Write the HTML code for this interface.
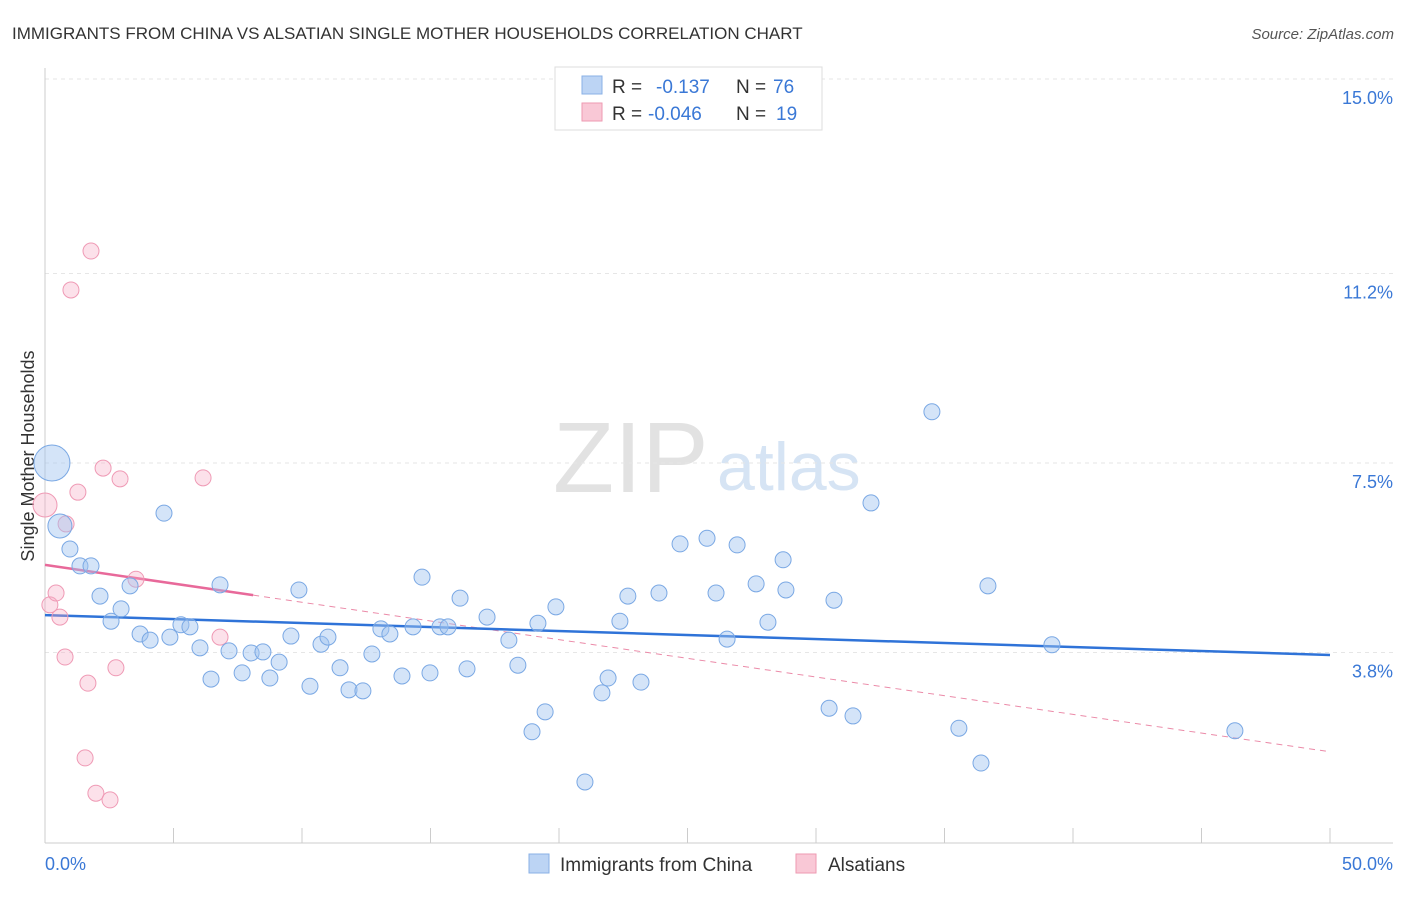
<!DOCTYPE html>
<html><head><meta charset="utf-8"><style>
body{margin:0;background:#fff;font-family:"Liberation Sans",sans-serif;}
svg text{font-family:"Liberation Sans",sans-serif;}
</style></head><body>
<svg id="chart" width="1406" height="892" viewBox="0 0 1406 892" xmlns="http://www.w3.org/2000/svg">
<text x="12" y="39" font-size="17" fill="#333">IMMIGRANTS FROM CHINA VS ALSATIAN SINGLE MOTHER HOUSEHOLDS CORRELATION CHART</text>
<text x="1394" y="39" font-size="15" fill="#555" font-style="italic" text-anchor="end">Source: ZipAtlas.com</text>
<g>
<text x="553" y="492" font-size="100" fill="#e2e2e2" font-family="Liberation Serif">ZIP</text>
<text x="717" y="490" font-size="68" fill="#d6e4f4">atlas</text>
</g>
<g id="grid"></g>
<g id="axes"></g>
<text transform="translate(34,456) rotate(-90)" font-size="18" fill="#333" text-anchor="middle">Single Mother Households</text>
<g id="lines"></g>
<g id="pts"></g>
<g>
<rect x="555" y="67" width="267" height="63" fill="#fff" stroke="#ddd"/>
<rect x="582" y="76" width="20" height="18" fill="#bcd4f4" stroke="#8ab0e6"/>
<rect x="582" y="103" width="20" height="18" fill="#f9c8d6" stroke="#ee9ab2"/>
<text x="612" y="93" font-size="19" fill="#333">R = <tspan x="656" fill="#3a78d6">-0.137</tspan><tspan x="736" fill="#333">N =</tspan><tspan x="773" fill="#3a78d6">76</tspan></text>
<text x="612" y="120" font-size="19" fill="#333">R = <tspan x="648" fill="#3a78d6">-0.046</tspan><tspan x="736" fill="#333">N =</tspan><tspan x="776" fill="#3a78d6">19</tspan></text>
</g>
<g>
<rect x="529" y="854" width="20" height="19" fill="#bcd4f4" stroke="#8ab0e6"/>
<text x="560" y="871" font-size="19" fill="#333">Immigrants from China</text>
<rect x="796" y="854" width="20" height="19" fill="#f9c8d6" stroke="#ee9ab2"/>
<text x="828" y="871" font-size="19" fill="#333">Alsatians</text>
</g>
</svg>
<script>
const yTicks=[3.8,7.5,11.2,15.0];
const yTickLabels=["3.8%","7.5%","11.2%","15.0%"];
const xEndLabels=["0.0%","50.0%"];
const chinaX=[0.27,0.58,0.97,1.36,1.79,2.14,2.57,2.96,3.31,3.70,4.09,4.63,4.86,5.29,5.64,6.03,6.46,6.81,7.16,7.67,8.02,8.48,8.75,9.11,9.57,9.88,10.31,10.74,11.01,11.48,11.83,12.37,12.72,13.07,13.42,13.89,14.32,14.67,14.98,15.37,15.68,16.15,16.42,17.20,18.05,18.40,18.95,19.18,19.46,19.88,21.01,21.67,21.91,22.37,22.68,23.19,23.89,24.71,25.76,26.11,26.54,26.93,27.67,28.13,28.72,28.83,30.51,30.70,31.44,32.14,34.51,35.56,36.42,36.69,39.18,46.30];
const chinaY=[7.50,6.27,5.82,5.49,5.49,4.90,4.41,4.65,5.10,4.16,4.04,6.52,4.10,4.34,4.30,3.89,3.28,5.12,3.83,3.40,3.79,3.81,3.30,3.61,4.12,5.02,3.14,3.96,4.10,3.50,3.07,3.05,3.77,4.26,4.16,3.34,4.30,5.27,3.40,4.30,4.30,4.86,3.48,4.49,4.04,3.55,2.25,4.37,2.64,4.69,1.27,3.01,3.30,4.41,4.90,3.22,4.96,5.92,6.03,4.96,4.06,5.90,5.14,4.39,5.61,5.02,2.71,4.82,2.56,6.72,8.50,2.32,1.64,5.10,3.95,2.27];
const chinaSize=[18,12];
const alsX=[0,0.19,0.43,0.58,0.82,0.78,1.01,1.28,1.67,1.79,1.56,1.98,2.26,2.53,2.76,2.92,3.54,6.15,6.81];
const alsY=[6.68,4.73,4.96,4.49,6.31,3.71,10.88,6.93,3.20,11.64,1.74,1.05,7.40,0.92,3.50,7.19,5.23,7.21,4.10];
const alsSize=[12];
const chinaTrend=[4.53,3.75];
const alsTrend=[5.51,1.86];
const alsSolidEnd=8.1;

const X=v=>45+v*25.7, Y=v=>847-v*51.2;
const NS="http://www.w3.org/2000/svg";
function mk(parent,tag,attrs){const e=document.createElementNS(NS,tag);for(const k in attrs)e.setAttribute(k,attrs[k]);document.getElementById(parent).appendChild(e);return e;}
yTicks.forEach((t,i)=>{
 const l=mk('grid','line',{x1:45,x2:1393,y1:Y(t),y2:Y(t),stroke:'#e6e6e6','stroke-dasharray':'4,4'});
 
 
 const tx=mk('grid','text',{x:1393,y:Y(t)+25,'font-size':18,fill:'#3a78d6','text-anchor':'end'});
 tx.textContent=yTickLabels[i];
 
 
});
let a=mk('axes','line',{x1:45,x2:45,y1:68,y2:843,stroke:'#ccc'});


a=mk('axes','line',{x1:45,x2:1393,y1:843,y2:843,stroke:'#ccc'});


for(let i=1;i<=10;i++){
 const t=mk('axes','line',{x1:X(i*5),x2:X(i*5),y1:828,y2:843,stroke:'#ccc'});
 
 
}
let xl=mk('axes','text',{x:45,y:870,'font-size':18,fill:'#3a78d6'});xl.textContent=xEndLabels[0];


xl=mk('axes','text',{x:1393,y:870,'font-size':18,fill:'#3a78d6','text-anchor':'end'});xl.textContent=xEndLabels[1];



alsX.forEach((x,i)=>{
 const c=mk('pts','circle',{cx:X(x),cy:Y(alsY[i]),r:alsSize[i]||8,fill:'rgba(246,170,195,0.35)',stroke:'#ef9ab5','stroke-width':1});
 
 
});
chinaX.forEach((x,i)=>{
 const c=mk('pts','circle',{cx:X(x),cy:Y(chinaY[i]),r:chinaSize[i]||8,fill:'rgba(160,195,240,0.45)',stroke:'#7aa8e4','stroke-width':1});
 
 
});
const slope=(alsTrend[1]-alsTrend[0])/50;
let ln=mk('lines','line',{x1:X(alsSolidEnd),y1:Y(alsTrend[0]+slope*alsSolidEnd),x2:X(50),y2:Y(alsTrend[1]),stroke:'#eb8aa8','stroke-width':1,'stroke-dasharray':'6,5'});


ln=mk('lines','line',{x1:X(0),y1:Y(alsTrend[0]),x2:X(alsSolidEnd),y2:Y(alsTrend[0]+slope*alsSolidEnd),stroke:'#e8699a','stroke-width':2.5});


ln=mk('lines','line',{x1:X(0),y1:Y(chinaTrend[0]),x2:X(50),y2:Y(chinaTrend[1]),stroke:'#2f73d8','stroke-width':2.5});


</script>
</body></html>
